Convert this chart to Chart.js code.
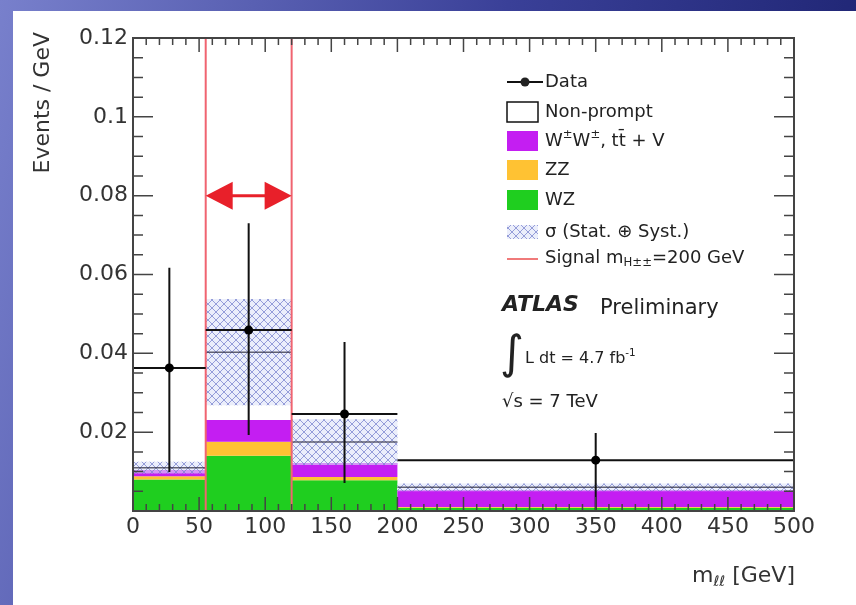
<!DOCTYPE html>
<html>
<head>
<meta charset="utf-8">
<script src="https://cdn.jsdelivr.net/npm/chart.js@4.4.0/dist/chart.umd.min.js"></script>
<style>
html, body { margin: 0; padding: 0; }
body { width: 856px; height: 605px; overflow: hidden; position: relative;
       background: linear-gradient(105deg, #7880cc 0%, #3a4098 50%, #161c68 100%); }
#painel { position: absolute; left: 13px; top: 11px; right: 0; bottom: 0; background: #fff; }
#wrap { position: absolute; left: 0; top: 0; width: 856px; height: 605px; }
</style>
</head>
<body>
<div id="painel"></div>
<div id="wrap"><canvas id="grafico" width="856" height="605"></canvas></div>
<script>
// bins de m(ll) [GeV]
const binEdges = [0, 55, 120, 200, 500];
// contribuicoes empilhadas (Events / GeV)
const wz = [0.0080, 0.0140, 0.0078, 0.0008];
const zz = [0.0008, 0.0036, 0.0008, 0.0002];
const wwttv = [0.0016, 0.0055, 0.0036, 0.0043];
const nonPrompt = [0.0006, 0.0172, 0.0053, 0.0007];
const bandErr = [0.0015, 0.0135, 0.0058, 0.0010];
// dados
const dataX = [27.5, 87.5, 160, 350];
const dataY = [0.0363, 0.0459, 0.0246, 0.0129];
const dataHigh = [0.0617, 0.0730, 0.0429, 0.0198];
const dataLow = [0.0099, 0.0193, 0.0071, 0.0003];
// regiao de sinal
const signalRegion = [55, 120];
const arrowY = 0.08;

const FONTE = '"DejaVu Sans", sans-serif';
const COR_WZ = '#1fce1f';
const COR_ZZ = '#ffc233';
const COR_WW = '#c41ef2';
const COR_SINAL = '#e8202a';

const somar = (...arrs) => arrs[0].map((_, i) => arrs.reduce((s, a) => s + a[i], 0));
const topoZZ = somar(wz, zz);
const topoWW = somar(wz, zz, wwttv);
const topoTotal = somar(wz, zz, wwttv, nonPrompt);
const bandaBaixo = topoTotal.map((v, i) => v - bandErr[i]);
const bandaAlto = topoTotal.map((v, i) => v + bandErr[i]);

function degraus(vals) {
    return binEdges.map((x, i) => ({ x: x, y: vals[Math.min(i, vals.length - 1)] }));
}

function criarHachura() {
    const c = document.createElement('canvas');
    c.width = 8; c.height = 8;
    const g = c.getContext('2d');
    g.fillStyle = 'rgba(222,226,248,0.6)';
    g.fillRect(0, 0, 8, 8);
    g.strokeStyle = 'rgba(120,130,205,0.75)';
    g.lineWidth = 1;
    g.beginPath();
    g.moveTo(0, 8); g.lineTo(8, 0);
    g.moveTo(0, 0); g.lineTo(8, 8);
    g.stroke();
    return g.createPattern(c, 'repeat');
}
const hachura = criarHachura();

// texto com sobrescrito / subscrito
function larguraRica(ctx, partes, tam) {
    let w = 0;
    partes.forEach(([t, modo, peso]) => {
        const s = modo ? tam * 0.65 : tam;
        ctx.font = `${peso || ''} ${s}px ${FONTE}`;
        w += ctx.measureText(t).width;
    });
    return w;
}
function textoRico(ctx, partes, x, y, tam) {
    let cx = x;
    partes.forEach(([t, modo, peso]) => {
        const s = modo ? tam * 0.65 : tam;
        ctx.font = `${peso || ''} ${s}px ${FONTE}`;
        const dy = modo === 'sup' ? -tam * 0.35 : modo === 'sub' ? tam * 0.3 : 0;
        ctx.fillText(t, cx, y + dy);
        cx += ctx.measureText(t).width;
    });
}

const base = { type: 'line', stepped: true, pointRadius: 0, borderWidth: 0,
               borderColor: 'transparent', tension: 0 };

const pluginRegiao = {
    id: 'regiaoSinal',
    afterDatasetsDraw(chart) {
        const { ctx, chartArea: a, scales: { x, y } } = chart;
        ctx.save();
        // contorno do total por cima da banda
        ctx.strokeStyle = 'rgba(60,60,80,0.8)';
        ctx.lineWidth = 1.5;
        ctx.beginPath();
        topoTotal.forEach((v, i) => {
            const py = y.getPixelForValue(v);
            ctx.moveTo(x.getPixelForValue(binEdges[i]), py);
            ctx.lineTo(x.getPixelForValue(binEdges[i + 1]), py);
        });
        ctx.stroke();

        ctx.strokeStyle = '#f06470';
        ctx.lineWidth = 2;
        signalRegion.forEach(v => {
            const px = x.getPixelForValue(v);
            ctx.beginPath(); ctx.moveTo(px, a.top); ctx.lineTo(px, a.bottom); ctx.stroke();
        });
        // seta dupla
        const x1 = x.getPixelForValue(signalRegion[0]);
        const x2 = x.getPixelForValue(signalRegion[1]);
        const py = y.getPixelForValue(arrowY);
        ctx.strokeStyle = COR_SINAL;
        ctx.fillStyle = COR_SINAL;
        ctx.lineWidth = 3;
        ctx.beginPath(); ctx.moveTo(x1 + 20, py); ctx.lineTo(x2 - 20, py); ctx.stroke();
        ctx.beginPath(); ctx.moveTo(x1, py); ctx.lineTo(x1 + 27, py - 14); ctx.lineTo(x1 + 27, py + 14); ctx.closePath(); ctx.fill();
        ctx.beginPath(); ctx.moveTo(x2, py); ctx.lineTo(x2 - 27, py - 14); ctx.lineTo(x2 - 27, py + 14); ctx.closePath(); ctx.fill();

        // barras de erro dos dados
        ctx.strokeStyle = '#111';
        ctx.lineWidth = 2;
        dataX.forEach((dx, i) => {
            const px = x.getPixelForValue(dx);
            ctx.beginPath();
            ctx.moveTo(px, y.getPixelForValue(dataLow[i]));
            ctx.lineTo(px, y.getPixelForValue(dataHigh[i]));
            ctx.moveTo(x.getPixelForValue(binEdges[i]), y.getPixelForValue(dataY[i]));
            ctx.lineTo(x.getPixelForValue(binEdges[i + 1]), y.getPixelForValue(dataY[i]));
            ctx.stroke();
            ctx.fillStyle = '#000';
            ctx.beginPath(); ctx.arc(px, y.getPixelForValue(dataY[i]), 4.5, 0, Math.PI * 2); ctx.fill();
        });
        ctx.restore();
    }
};

const pluginMoldura = {
    id: 'moldura',
    afterDraw(chart) {
        const { ctx, chartArea: a, scales: { x, y } } = chart;
        ctx.save();
        ctx.strokeStyle = '#444';
        ctx.lineWidth = 1.5;
        ctx.beginPath();
        for (let k = 0; k <= 50; k++) {
            const px = x.getPixelForValue(k * 10);
            const len = k % 5 === 0 ? 14 : 7;
            ctx.moveTo(px, a.bottom); ctx.lineTo(px, a.bottom - len);
            ctx.moveTo(px, a.top); ctx.lineTo(px, a.top + len);
        }
        for (let k = 0; k <= 24; k++) {
            const py = y.getPixelForValue(k * 0.005);
            const len = k % 4 === 0 ? 20 : 10;
            ctx.moveTo(a.left, py); ctx.lineTo(a.left + len, py);
            ctx.moveTo(a.right, py); ctx.lineTo(a.right - len, py);
        }
        ctx.stroke();
        ctx.lineWidth = 2;
        ctx.strokeRect(a.left, a.top, a.right - a.left, a.bottom - a.top);

        // titulos dos eixos
        ctx.fillStyle = '#333';
        ctx.textBaseline = 'middle';
        ctx.save();
        ctx.translate(43, 32);
        ctx.rotate(-Math.PI / 2);
        ctx.textAlign = 'right';
        ctx.font = `22px ${FONTE}`;
        ctx.fillText('Events / GeV', 0, 0);
        ctx.restore();
        ctx.textAlign = 'left';
        const tituloX = [['m'], ['ℓℓ', 'sub'], [' [GeV]']];
        textoRico(ctx, tituloX, 795 - larguraRica(ctx, tituloX, 22), 576, 22);

        // legenda
        const lx = 507, tx = 545, tam = 18;
        ctx.fillStyle = '#222';
        ctx.strokeStyle = '#111';
        ctx.lineWidth = 2;
        ctx.beginPath(); ctx.moveTo(lx, 82); ctx.lineTo(lx + 36, 82); ctx.stroke();
        ctx.beginPath(); ctx.arc(lx + 18, 82, 4.5, 0, Math.PI * 2); ctx.fill();
        ctx.fillStyle = '#fff';
        ctx.fillRect(lx, 102, 31, 20);
        ctx.lineWidth = 1.5;
        ctx.strokeRect(lx, 102, 31, 20);
        ctx.fillStyle = COR_WW; ctx.fillRect(lx, 131, 31, 20);
        ctx.fillStyle = COR_ZZ; ctx.fillRect(lx, 160, 31, 20);
        ctx.fillStyle = COR_WZ; ctx.fillRect(lx, 190, 31, 20);
        ctx.fillStyle = hachura; ctx.fillRect(lx, 225, 31, 14);
        ctx.strokeStyle = '#f07a7a'; ctx.lineWidth = 2;
        ctx.beginPath(); ctx.moveTo(lx, 259); ctx.lineTo(lx + 31, 259); ctx.stroke();

        ctx.fillStyle = '#222';
        textoRico(ctx, [['Data']], tx, 82, tam);
        textoRico(ctx, [['Non-prompt']], tx, 112, tam);
        textoRico(ctx, [['W'], ['±', 'sup'], ['W'], ['±', 'sup'], [', tt\u0304 + V']], tx, 141, tam);
        textoRico(ctx, [['ZZ']], tx, 170, tam);
        textoRico(ctx, [['WZ']], tx, 200, tam);
        textoRico(ctx, [['σ (Stat. ⊕ Syst.)']], tx, 232, tam);
        textoRico(ctx, [['Signal m'], ['H±±', 'sub'], ['=200 GeV']], tx, 258, tam);

        ctx.font = `italic bold 22px ${FONTE}`;
        ctx.fillText('ATLAS', 502, 305);
        ctx.font = `21px ${FONTE}`;
        ctx.fillText('Preliminary', 600, 309);
        ctx.font = `46px ${FONTE}`;
        ctx.fillText('∫', 500, 356);
        textoRico(ctx, [['L dt = 4.7 fb'], ['-1', 'sup']], 525, 359, 16);
        textoRico(ctx, [['√s = 7 TeV']], 502, 402, 18);
        ctx.restore();
    }
};

new Chart(document.getElementById('grafico'), {
    type: 'line',
    data: {
        datasets: [
            { ...base, label: 'WZ', data: degraus(wz), fill: 'origin', backgroundColor: COR_WZ, order: 7 },
            { ...base, label: 'ZZ', data: degraus(topoZZ), fill: '-1', backgroundColor: COR_ZZ, order: 6 },
            { ...base, label: 'W±W±, tt + V', data: degraus(topoWW), fill: '-1', backgroundColor: COR_WW, order: 5 },
            { ...base, label: 'Non-prompt', data: degraus(topoTotal), fill: '-1', backgroundColor: '#ffffff', order: 4 },
            { ...base, label: 'band low', data: degraus(bandaBaixo), fill: false, order: 3 },
            { ...base, label: 'σ (Stat. ⊕ Syst.)', data: degraus(bandaAlto), fill: '-1', backgroundColor: hachura, order: 2 },
            { type: 'line', label: 'Data', showLine: false, pointRadius: 0,
              data: dataX.map((x, i) => ({ x: x, y: dataY[i] })), order: 1 }
        ]
    },
    options: {
        responsive: false,
        animation: false,
        devicePixelRatio: 1,
        layout: { padding: { left: 63, right: 62, top: 38, bottom: 34 } },
        plugins: { legend: { display: false }, tooltip: { enabled: false } },
        scales: {
            x: {
                type: 'linear', min: 0, max: 500,
                grid: { display: false, drawTicks: false },
                border: { display: false },
                afterFit: s => { s.height = 60; },
                ticks: { stepSize: 50, autoSkip: false, maxRotation: 0, padding: 3, color: '#333',
                         font: { family: FONTE, size: 22 } }
            },
            y: {
                min: 0, max: 0.12,
                grid: { display: false, drawTicks: false },
                border: { display: false },
                afterFit: s => { s.width = 70; },
                ticks: { stepSize: 0.02, padding: 5, color: '#333', font: { family: FONTE, size: 22 },
                         callback: v => (Math.abs(v) < 1e-9 ? '' : String(Number(v.toFixed(2)))) }
            }
        }
    },
    plugins: [pluginRegiao, pluginMoldura]
});
</script>
</body>
</html>
